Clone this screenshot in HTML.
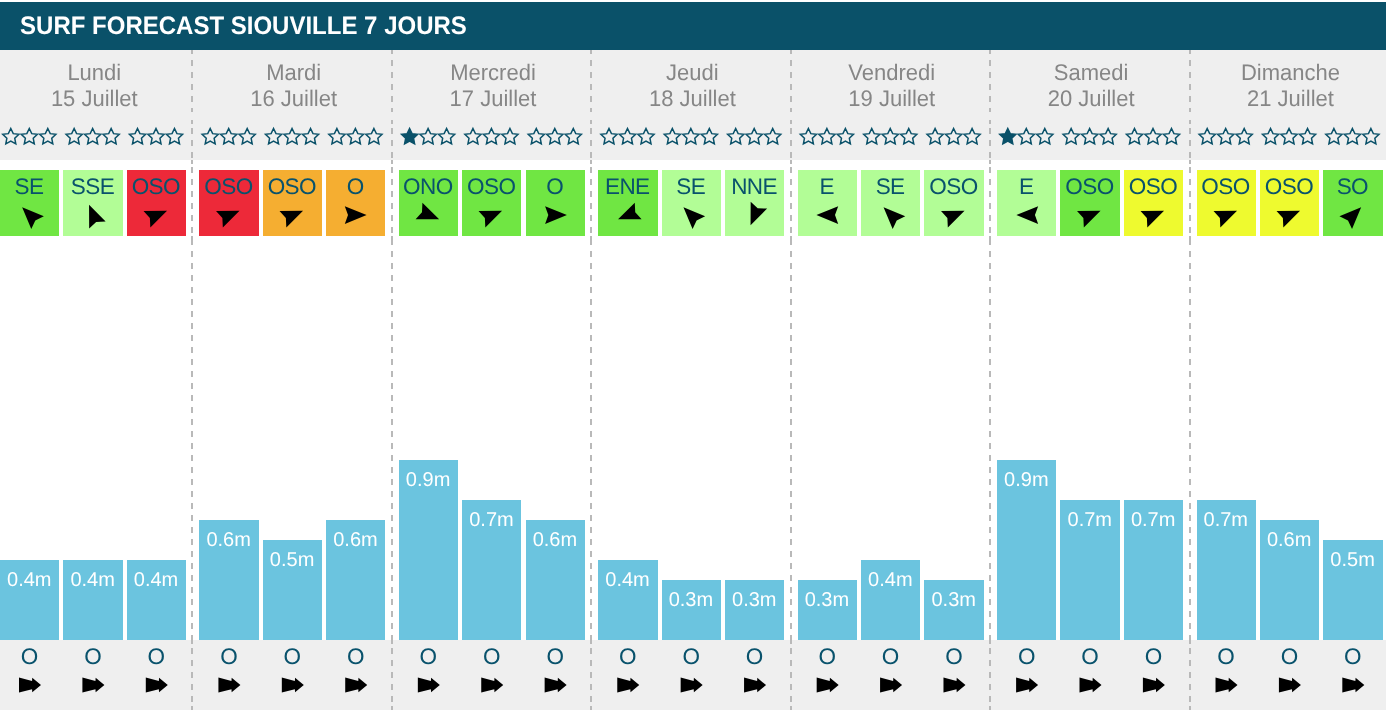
<!DOCTYPE html>
<html lang="fr">
<head>
<meta charset="utf-8">
<title>Surf forecast Siouville 7 jours</title>
<style>
html,body{margin:0;padding:0;background:#fff;}
body{width:1386px;height:712px;overflow:hidden;position:relative;font-family:"Liberation Sans",Arial,Helvetica,sans-serif;text-rendering:geometricPrecision;}
.abs,.abs *{position:absolute;}
#hd{left:0;top:2px;width:1386px;height:48px;background:#0a5169;}
#hd h1{margin:0;left:20.1px;top:0.6px;line-height:48px;font-size:24px;font-weight:bold;color:#fff;white-space:nowrap;letter-spacing:0;transform:scaleY(1.055);transform-origin:0 32.6px;}
#g1{left:0;top:50px;width:1386px;height:110px;background:#efefef;}
#g2{left:0;top:640px;width:1386px;height:70px;background:#efefef;}
.dt{top:59.8px;width:200px;margin-left:-100px;text-align:center;font-size:22px;line-height:26px;color:#868686;white-space:nowrap;}
.dt span{position:static;display:block;transform:scaleY(1.025);transform-origin:50% 20.6px;}
.wb{top:170px;height:66px;}
.wb b{font-weight:normal;width:80px;margin-left:-40px;top:3.8px;text-align:center;font-size:22.5px;line-height:25px;letter-spacing:-0.55px;text-indent:-0.55px;color:#09526c;}
.bar{background:#6bc4df;}
.bar b{font-weight:normal;width:80px;margin-left:-40px;top:8.9px;text-align:center;font-size:20px;line-height:23px;color:#fff;}
.sw{top:643.9px;width:60px;margin-left:-30px;text-align:center;font-size:22.5px;line-height:25px;color:#09526c;}
svg{left:0;top:0;overflow:visible;}
.green{background:#70e643}.lgreen{background:#b2fd96}.red{background:#ed2939}.orange{background:#f5ae31}.yellow{background:#eefa2f}
</style>
</head>
<body>
<div class="abs" id="root">
<div id="hd"><h1>SURF FORECAST SIOUVILLE 7 JOURS</h1></div>
<div id="g1"></div>
<div id="g2"></div>

<div class="dt" style="left:94.3px"><span>Lundi</span><span>15 Juillet</span></div>
<div class="wb green" style="left:-1px;width:60px"><b style="left:30.3px">SE</b></div>
<div class="bar" style="left:-1px;width:60px;top:560px;height:80px"><b style="left:30.25px">0.4m</b></div>
<div class="sw" style="left:29.55px">O</div>
<div class="wb lgreen" style="left:63px;width:60px"><b style="left:29.7px">SSE</b></div>
<div class="bar" style="left:63px;width:60px;top:560px;height:80px"><b style="left:29.65px">0.4m</b></div>
<div class="sw" style="left:92.95px">O</div>
<div class="wb red" style="left:127px;width:59px"><b style="left:29.1px">OSO</b></div>
<div class="bar" style="left:127px;width:59px;top:560px;height:80px"><b style="left:29.05px">0.4m</b></div>
<div class="sw" style="left:156.35px">O</div>
<div class="dt" style="left:293.66px"><span>Mardi</span><span>16 Juillet</span></div>
<div class="wb red" style="left:199px;width:60px"><b style="left:29.72px">OSO</b></div>
<div class="bar" style="left:199px;width:60px;top:520px;height:120px"><b style="left:29.67px">0.6m</b></div>
<div class="sw" style="left:228.97px">O</div>
<div class="wb orange" style="left:263px;width:59px"><b style="left:29.12px">OSO</b></div>
<div class="bar" style="left:263px;width:59px;top:540px;height:100px"><b style="left:29.07px">0.5m</b></div>
<div class="sw" style="left:292.37px">O</div>
<div class="wb orange" style="left:326px;width:59px"><b style="left:29.52px">O</b></div>
<div class="bar" style="left:326px;width:59px;top:520px;height:120px"><b style="left:29.47px">0.6m</b></div>
<div class="sw" style="left:355.77px">O</div>
<div class="dt" style="left:493.02px"><span>Mercredi</span><span>17 Juillet</span></div>
<div class="wb green" style="left:399px;width:59px"><b style="left:29.14px">ONO</b></div>
<div class="bar" style="left:399px;width:59px;top:460px;height:180px"><b style="left:29.09px">0.9m</b></div>
<div class="sw" style="left:428.39px">O</div>
<div class="wb green" style="left:462px;width:59px"><b style="left:29.54px">OSO</b></div>
<div class="bar" style="left:462px;width:59px;top:500px;height:140px"><b style="left:29.49px">0.7m</b></div>
<div class="sw" style="left:491.79px">O</div>
<div class="wb green" style="left:526px;width:59px"><b style="left:28.94px">O</b></div>
<div class="bar" style="left:526px;width:59px;top:520px;height:120px"><b style="left:28.89px">0.6m</b></div>
<div class="sw" style="left:555.19px">O</div>
<div class="dt" style="left:692.38px"><span>Jeudi</span><span>18 Juillet</span></div>
<div class="wb green" style="left:598px;width:60px"><b style="left:29.56px">ENE</b></div>
<div class="bar" style="left:598px;width:60px;top:560px;height:80px"><b style="left:29.51px">0.4m</b></div>
<div class="sw" style="left:627.81px">O</div>
<div class="wb lgreen" style="left:662px;width:59px"><b style="left:28.96px">SE</b></div>
<div class="bar" style="left:662px;width:59px;top:580px;height:60px"><b style="left:28.91px">0.3m</b></div>
<div class="sw" style="left:691.21px">O</div>
<div class="wb lgreen" style="left:725px;width:59px"><b style="left:29.36px">NNE</b></div>
<div class="bar" style="left:725px;width:59px;top:580px;height:60px"><b style="left:29.31px">0.3m</b></div>
<div class="sw" style="left:754.61px">O</div>
<div class="dt" style="left:891.74px"><span>Vendredi</span><span>19 Juillet</span></div>
<div class="wb lgreen" style="left:798px;width:59px"><b style="left:28.98px">E</b></div>
<div class="bar" style="left:798px;width:59px;top:580px;height:60px"><b style="left:28.93px">0.3m</b></div>
<div class="sw" style="left:827.23px">O</div>
<div class="wb lgreen" style="left:861px;width:59px"><b style="left:29.38px">SE</b></div>
<div class="bar" style="left:861px;width:59px;top:560px;height:80px"><b style="left:29.33px">0.4m</b></div>
<div class="sw" style="left:890.63px">O</div>
<div class="wb lgreen" style="left:924px;width:60px"><b style="left:29.78px">OSO</b></div>
<div class="bar" style="left:924px;width:60px;top:580px;height:60px"><b style="left:29.73px">0.3m</b></div>
<div class="sw" style="left:954.03px">O</div>
<div class="dt" style="left:1091.1px"><span>Samedi</span><span>20 Juillet</span></div>
<div class="wb lgreen" style="left:997px;width:59px"><b style="left:29.4px">E</b></div>
<div class="bar" style="left:997px;width:59px;top:460px;height:180px"><b style="left:29.35px">0.9m</b></div>
<div class="sw" style="left:1026.65px">O</div>
<div class="wb green" style="left:1060px;width:60px"><b style="left:29.8px">OSO</b></div>
<div class="bar" style="left:1060px;width:60px;top:500px;height:140px"><b style="left:29.75px">0.7m</b></div>
<div class="sw" style="left:1090.05px">O</div>
<div class="wb yellow" style="left:1124px;width:59px"><b style="left:29.2px">OSO</b></div>
<div class="bar" style="left:1124px;width:59px;top:500px;height:140px"><b style="left:29.15px">0.7m</b></div>
<div class="sw" style="left:1153.45px">O</div>
<div class="dt" style="left:1290.46px"><span>Dimanche</span><span>21 Juillet</span></div>
<div class="wb yellow" style="left:1197px;width:59px"><b style="left:28.82px">OSO</b></div>
<div class="bar" style="left:1197px;width:59px;top:500px;height:140px"><b style="left:28.77px">0.7m</b></div>
<div class="sw" style="left:1226.07px">O</div>
<div class="wb yellow" style="left:1260px;width:59px"><b style="left:29.22px">OSO</b></div>
<div class="bar" style="left:1260px;width:59px;top:520px;height:120px"><b style="left:29.17px">0.6m</b></div>
<div class="sw" style="left:1289.47px">O</div>
<div class="wb green" style="left:1323px;width:60px"><b style="left:29.62px">SO</b></div>
<div class="bar" style="left:1323px;width:60px;top:540px;height:100px"><b style="left:29.57px">0.5m</b></div>
<div class="sw" style="left:1352.87px">O</div>
<svg width="1386" height="712" viewBox="0 0 1386 712">
<defs><path id="dl" d="M0 50V54M0 60V66M0 72V78M0 84V90M0 96V102M0 108V112M0 120V124M0 128V134M0 140V146M0 152V158M0 160V164M0 167V173M0 179V185M0 191V197M0 203V209M0 215V221M0 227V233M0 236V240M0 240V245M0 251V257M0 263V269M0 275V281M0 287V293M0 299V305M0 311V317M0 323V329M0 335V341M0 347V353M0 359V365M0 371V377M0 383V389M0 395V401M0 407V413M0 419V425M0 431V437M0 443V449M0 455V461M0 467V473M0 479V485M0 491V497M0 503V509M0 515V521M0 527V533M0 539V545M0 551V557M0 563V569M0 575V581M0 587V593M0 599V605M0 611V617M0 623V629M0 635V640M0 640V644M0 648V654M0 660V666M0 672V678M0 684V690M0 696V702M0 706V710" stroke="#b9b9b9" stroke-width="2" fill="none"/>
<polygon id="so" points="0,-8.5 2.44,-3.36 8.08,-2.63 3.95,1.28 5,6.88 0,4.15 -5,6.88 -3.95,1.28 -8.08,-2.63 -2.44,-3.36" fill="none" stroke="#0a5169" stroke-width="1.5" stroke-linejoin="miter"/>
<polygon id="sf" points="0,-8.5 2.44,-3.36 8.08,-2.63 3.95,1.28 5,6.88 0,4.15 -5,6.88 -3.95,1.28 -8.08,-2.63 -2.44,-3.36" fill="#0a5169" stroke="#0a5169" stroke-width="1.5"/>
<polygon id="ar" points="11.1,0 -10.7,-8.9 -7.5,0 -10.7,8.9" fill="#000"/>
<polygon id="sw" points="-11,-7.6 2.05,-4 2.25,-7.2 11,0.1 2.25,7.3 2.05,4.2 -11,7.55" fill="#000"/></defs>
<use href="#dl" x="192" y="0"/>
<use href="#dl" x="392" y="0"/>
<use href="#dl" x="591" y="0"/>
<use href="#dl" x="791" y="0"/>
<use href="#dl" x="990" y="0"/>
<use href="#dl" x="1190" y="0"/>
<use href="#so" x="10.8" y="137"/>
<use href="#so" x="29.3" y="137"/>
<use href="#so" x="47.8" y="137"/>
<use href="#ar" transform="translate(30 215.1) rotate(-135)"/>
<use href="#sw" x="30" y="685"/>
<use href="#so" x="74.15" y="137"/>
<use href="#so" x="92.65" y="137"/>
<use href="#so" x="111.15" y="137"/>
<use href="#ar" transform="translate(93.3 215.1) rotate(-112.5)"/>
<use href="#sw" x="93.4" y="685"/>
<use href="#so" x="137.5" y="137"/>
<use href="#so" x="156" y="137"/>
<use href="#so" x="174.5" y="137"/>
<use href="#ar" transform="translate(156.8 215.1) rotate(-22.5)"/>
<use href="#sw" x="156.8" y="685"/>
<use href="#so" x="210.2" y="137"/>
<use href="#so" x="228.7" y="137"/>
<use href="#so" x="247.2" y="137"/>
<use href="#ar" transform="translate(229.3 215.1) rotate(-22.5)"/>
<use href="#sw" x="229.42" y="685"/>
<use href="#so" x="273.55" y="137"/>
<use href="#so" x="292.05" y="137"/>
<use href="#so" x="310.55" y="137"/>
<use href="#ar" transform="translate(292.8 215.1) rotate(-22.5)"/>
<use href="#sw" x="292.82" y="685"/>
<use href="#so" x="336.9" y="137"/>
<use href="#so" x="355.4" y="137"/>
<use href="#so" x="373.9" y="137"/>
<use href="#ar" transform="translate(355.5 215.1) rotate(0)"/>
<use href="#sw" x="356.22" y="685"/>
<use href="#sf" x="409.6" y="137"/>
<use href="#so" x="428.1" y="137"/>
<use href="#so" x="446.6" y="137"/>
<use href="#ar" transform="translate(428.9 215.1) rotate(22.5)"/>
<use href="#sw" x="428.84" y="685"/>
<use href="#so" x="472.95" y="137"/>
<use href="#so" x="491.45" y="137"/>
<use href="#so" x="509.95" y="137"/>
<use href="#ar" transform="translate(491.8 215.1) rotate(-22.5)"/>
<use href="#sw" x="492.24" y="685"/>
<use href="#so" x="536.3" y="137"/>
<use href="#so" x="554.8" y="137"/>
<use href="#so" x="573.3" y="137"/>
<use href="#ar" transform="translate(555.8 215.1) rotate(0)"/>
<use href="#sw" x="555.64" y="685"/>
<use href="#so" x="609" y="137"/>
<use href="#so" x="627.5" y="137"/>
<use href="#so" x="646" y="137"/>
<use href="#ar" transform="translate(628.3 215.1) rotate(-202.5)"/>
<use href="#sw" x="628.26" y="685"/>
<use href="#so" x="672.35" y="137"/>
<use href="#so" x="690.85" y="137"/>
<use href="#so" x="709.35" y="137"/>
<use href="#ar" transform="translate(691.3 215.1) rotate(-135)"/>
<use href="#sw" x="691.66" y="685"/>
<use href="#so" x="735.7" y="137"/>
<use href="#so" x="754.2" y="137"/>
<use href="#so" x="772.7" y="137"/>
<use href="#ar" transform="translate(754.8 215.1) rotate(-247.5)"/>
<use href="#sw" x="755.06" y="685"/>
<use href="#so" x="808.4" y="137"/>
<use href="#so" x="826.9" y="137"/>
<use href="#so" x="845.4" y="137"/>
<use href="#ar" transform="translate(827.5 215.1) rotate(-180)"/>
<use href="#sw" x="827.68" y="685"/>
<use href="#so" x="871.75" y="137"/>
<use href="#so" x="890.25" y="137"/>
<use href="#so" x="908.75" y="137"/>
<use href="#ar" transform="translate(891.4 215.1) rotate(-135)"/>
<use href="#sw" x="891.08" y="685"/>
<use href="#so" x="935.1" y="137"/>
<use href="#so" x="953.6" y="137"/>
<use href="#so" x="972.1" y="137"/>
<use href="#ar" transform="translate(954.3 215.1) rotate(-22.5)"/>
<use href="#sw" x="954.48" y="685"/>
<use href="#sf" x="1007.8" y="137"/>
<use href="#so" x="1026.3" y="137"/>
<use href="#so" x="1044.8" y="137"/>
<use href="#ar" transform="translate(1027.45 215.1) rotate(-180)"/>
<use href="#sw" x="1027.1" y="685"/>
<use href="#so" x="1071.15" y="137"/>
<use href="#so" x="1089.65" y="137"/>
<use href="#so" x="1108.15" y="137"/>
<use href="#ar" transform="translate(1090.3 215.1) rotate(-22.5)"/>
<use href="#sw" x="1090.5" y="685"/>
<use href="#so" x="1134.5" y="137"/>
<use href="#so" x="1153" y="137"/>
<use href="#so" x="1171.5" y="137"/>
<use href="#ar" transform="translate(1153.8 215.1) rotate(-22.5)"/>
<use href="#sw" x="1153.9" y="685"/>
<use href="#so" x="1207.2" y="137"/>
<use href="#so" x="1225.7" y="137"/>
<use href="#so" x="1244.2" y="137"/>
<use href="#ar" transform="translate(1226.8 215.1) rotate(-22.5)"/>
<use href="#sw" x="1226.52" y="685"/>
<use href="#so" x="1270.55" y="137"/>
<use href="#so" x="1289.05" y="137"/>
<use href="#so" x="1307.55" y="137"/>
<use href="#ar" transform="translate(1289.8 215.1) rotate(-22.5)"/>
<use href="#sw" x="1289.92" y="685"/>
<use href="#so" x="1333.9" y="137"/>
<use href="#so" x="1352.4" y="137"/>
<use href="#so" x="1370.9" y="137"/>
<use href="#ar" transform="translate(1353.3 215.1) rotate(-45)"/>
<use href="#sw" x="1353.32" y="685"/>
</svg>
</div>
</body>
</html>
